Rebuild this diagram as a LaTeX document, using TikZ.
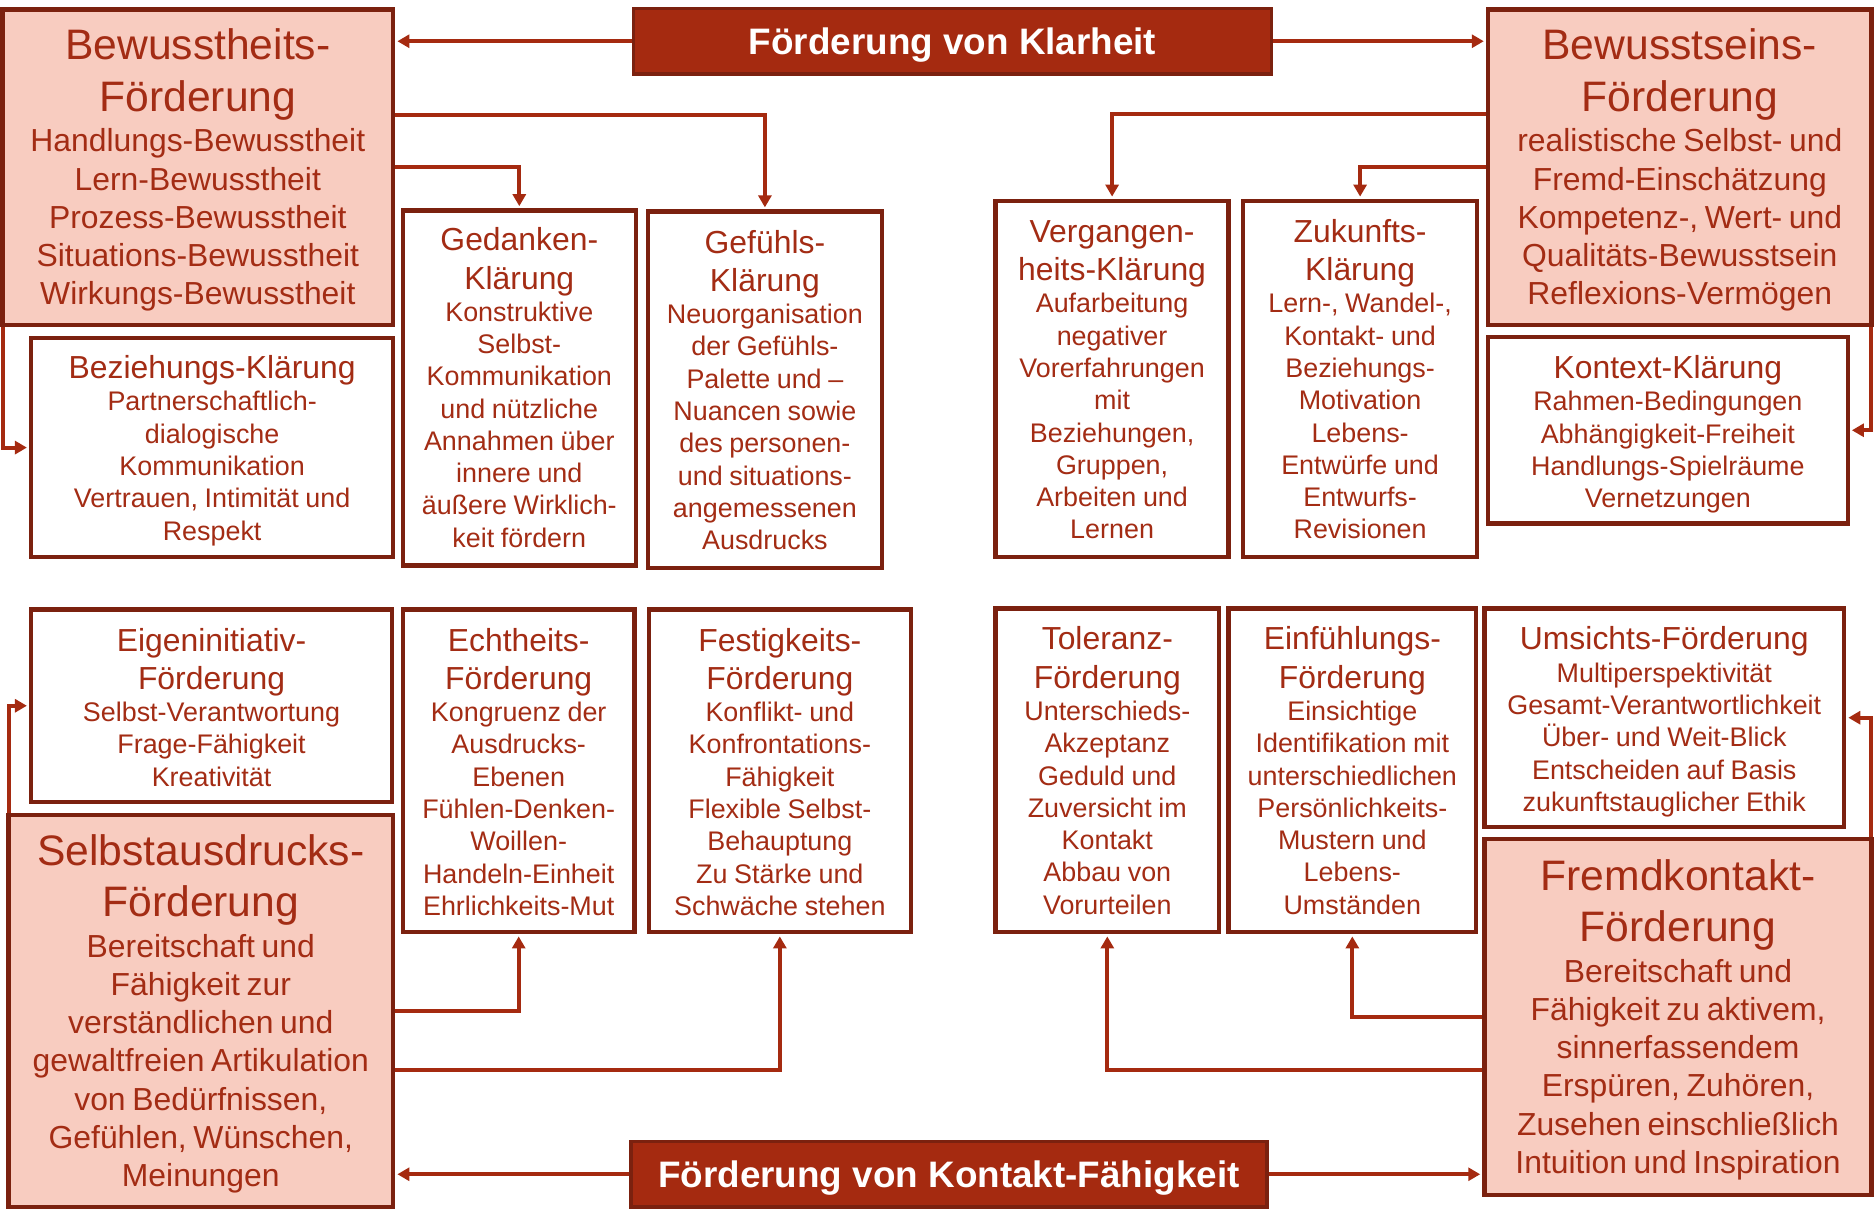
\documentclass[tikz,border=0pt]{standalone}
\usepackage{fontspec}
\setmainfont{Liberation Sans}
\usetikzlibrary{arrows.meta,positioning}
\definecolor{txtred}{RGB}{163,44,20}
\definecolor{boxline}{RGB}{123,33,15}
\definecolor{pinkfill}{RGB}{248,204,192}
\definecolor{headred}{RGB}{165,42,16}
\definecolor{arrred}{RGB}{165,42,16}
\newcommand{\pinktitle}{\fontsize{21.4}{25.8}\selectfont}
\newcommand{\pinkbody}{\fontsize{16}{19.2}\selectfont}
\newcommand{\boxtitle}{\fontsize{16}{19.2}\selectfont}
\newcommand{\boxbody}{\fontsize{13.5}{16.2}\selectfont}
\newcommand{\pinktext}[2]{{\pinktitle #1\par}\vskip1.2pt{\pinkbody #2\par}}
\newcommand{\whitetext}[2]{{\boxtitle #1\par}{\boxbody #2\par}}
\begin{document}
\begin{tikzpicture}[x=0.6pt,y=-0.6pt,
    box/.style={draw=boxline,line width=2.2pt,inner sep=0pt,align=center,text=txtred},
    pinkbox/.style={box,fill=pinkfill},
    whitebox/.style={box,fill=white},
    sz/.style n args={3}{minimum width=#1,minimum height=#2,text width=#1,
        text height=0pt,text depth=#3},
    headbox/.style={draw=boxline,fill=headred,line width=1.8pt,inner sep=0pt,
        text depth=0pt,text=white,font=\bfseries\fontsize{18.5}{22}\selectfont},
    conn/.style={draw=arrred,line width=2pt,shorten >=1pt,
        -{Triangle[length=6pt,width=6.5pt]}}]
    \useasboundingbox (0,0) rectangle (1568,1012);
    \node[headbox,minimum width=320.4pt,minimum height=33pt] (klarheit) at (797,34.5)
        {Förderung von Klarheit};
    \node[headbox,minimum width=319.2pt,minimum height=33pt] (kontakt) at (794,982.5)
        {Förderung von Kontakt-Fähigkeit};
    \node[pinkbox,sz={196.2pt}{158.4pt}{108pt}] (bewheit) at (165.5,140)
        {\pinktext{Bewusstheits-\\Förderung}{Handlungs-Bewusstheit\\Lern-Bewusstheit\\
          Prozess-Bewusstheit\\Situations-Bewusstheit\\Wirkungs-Bewusstheit}};
    \node[pinkbox,sz={192.6pt}{158.4pt}{108pt}] (bewsein) at (1405.5,140)
        {\pinktext{Bewusstseins-\\Förderung}{realistische Selbst- und\\Fremd-Einschätzung\\
          Kompetenz-, Wert- und\\Qualitäts-Bewusstsein\\Reflexions-Vermögen}};
    \node[pinkbox,sz={193.2pt}{196.8pt}{146.6pt}] (selbst) at (168,846)
        {\pinktext{Selbstausdrucks-\\Förderung}{Bereitschaft und\\Fähigkeit zur\\
          verständlichen und\\gewaltfreien Artikulation\\von Bedürfnissen,\\
          Gefühlen, Wünschen,\\Meinungen}};
    \node[pinkbox,sz={194.4pt}{178.8pt}{127.4pt}] (fremd) at (1404,851)
        {\pinktext{Fremdkontakt-\\Förderung}{Bereitschaft und\\Fähigkeit zu aktivem,\\
          sinnerfassendem\\Erspüren, Zuhören,\\Zusehen einschließlich\\
          Intuition und Inspiration}};
    \node[whitebox,sz={181.8pt}{109.8pt}{69.2pt}] (bezkl) at (177.5,374.5)
        {\whitetext{Beziehungs-Klärung}{Partnerschaftlich-\\dialogische\\
          Kommunikation\\Vertrauen, Intimität und\\Respekt}};
    \node[whitebox,sz={117pt}{178.2pt}{137.6pt}] (gedkl) at (434.5,324.5)
        {\whitetext{Gedanken-\\Klärung}{Konstruktive\\Selbst-\\Kommunikation\\
          und nützliche\\Annahmen über\\innere und\\äußere Wirklich-\\keit fördern}};
    \node[whitebox,sz={117.6pt}{178.8pt}{137pt}] (gefkl) at (640,326)
        {\whitetext{Gefühls-\\Klärung}{Neuorganisation\\der Gefühls-\\Palette und –\\
          Nuancen sowie\\des personen-\\und situations-\\angemessenen\\Ausdrucks}};
    \node[whitebox,sz={117pt}{178.8pt}{137pt}] (vergkl) at (930.5,317)
        {\whitetext{Vergangen-\\heits-Klärung}{Aufarbeitung\\negativer\\Vorerfahrungen\\
          mit\\Beziehungen,\\Gruppen,\\Arbeiten und\\Lernen}};
    \node[whitebox,sz={117.6pt}{178.8pt}{137pt}] (zukkl) at (1138,317)
        {\whitetext{Zukunfts-\\Klärung}{Lern-, Wandel-,\\Kontakt- und\\Beziehungs-\\
          Motivation\\Lebens-\\Entwürfe und\\Entwurfs-\\Revisionen}};
    \node[whitebox,sz={180.6pt}{93.6pt}{51.8pt}] (kontkl) at (1395.5,360)
        {\whitetext{Kontext-Klärung}{Rahmen-Bedingungen\\Abhängigkeit-Freiheit\\
          Handlungs-Spielräume\\Vernetzungen}};
    \node[whitebox,sz={181.2pt}{96.6pt}{54.8pt}] (eigen) at (177,590.5)
        {\whitetext{Eigeninitiativ-\\Förderung}{Selbst-Verantwortung\\Frage-Fähigkeit\\
          Kreativität}};
    \node[whitebox,sz={116.4pt}{162pt}{120.2pt}] (echt) at (434,645)
        {\whitetext{Echtheits-\\Förderung}{Kongruenz der\\Ausdrucks-\\Ebenen\\
          Fühlen-Denken-\\Woillen-\\Handeln-Einheit\\Ehrlichkeits-Mut}};
    \node[whitebox,sz={131.4pt}{162pt}{120.2pt}] (fest) at (652.5,645)
        {\whitetext{Festigkeits-\\Förderung}{Konflikt- und\\Konfrontations-\\Fähigkeit\\
          Flexible Selbst-\\Behauptung\\Zu Stärke und\\Schwäche stehen}};
    \node[whitebox,sz={112.2pt}{162.6pt}{120.8pt}] (toler) at (926.5,644.5)
        {\whitetext{Toleranz-\\Förderung}{Unterschieds-\\Akzeptanz\\Geduld und\\
          Zuversicht im\\Kontakt\\Abbau von\\Vorurteilen}};
    \node[whitebox,sz={124.2pt}{162.6pt}{120.8pt}] (einf) at (1131.5,644.5)
        {\whitetext{Einfühlungs-\\Förderung}{Einsichtige\\Identifikation mit\\
          unterschiedlichen\\Persönlichkeits-\\Mustern und\\Lebens-\\Umständen}};
    \node[whitebox,sz={180.6pt}{109.8pt}{68pt}] (umsicht) at (1392.5,600.5)
        {\whitetext{Umsichts-Förderung}{Multiperspektivität\\
          Gesamt-Verantwortlichkeit\\Über- und Weit-Blick\\Entscheiden auf Basis\\
          zukunftstauglicher Ethik}};
    \draw[conn] (klarheit.west) -- (klarheit.west -| bewheit.east);
    \draw[conn] (klarheit.east) -- (klarheit.east -| bewsein.west);
    \draw[conn] ([yshift=26.4pt]bewheit.east) -| (gefkl.north);
    \draw[conn] (bewheit.east) -| (gedkl.north);
    \draw[conn] ([xshift=1.2pt]bewheit.south west) |- (bezkl.west);
    \draw[conn] ([yshift=27pt]bewsein.west) -| (vergkl.north);
    \draw[conn] (bewsein.west) -| (zukkl.north);
    \draw[conn] ([xshift=-1.2pt]bewsein.south east) |- (kontkl.east);
    \draw[conn] (kontakt.west) -- (kontakt.west -| selbst.east);
    \draw[conn] (kontakt.east) -- (kontakt.east -| fremd.west);
    \draw[conn] ([xshift=1.2pt]selbst.north west) |- (eigen.west);
    \draw[conn] (selbst.east) -| (echt.south);
    \draw[conn] ([yshift=-29.4pt]selbst.east) -| (fest.south);
    \draw[conn] (fremd.west) -| (einf.south);
    \draw[conn] ([yshift=-26.4pt]fremd.west) -| (toler.south);
    \draw[conn] ([xshift=-1.2pt]fremd.north east) |- (umsicht.east);
\end{tikzpicture}
\end{document}
